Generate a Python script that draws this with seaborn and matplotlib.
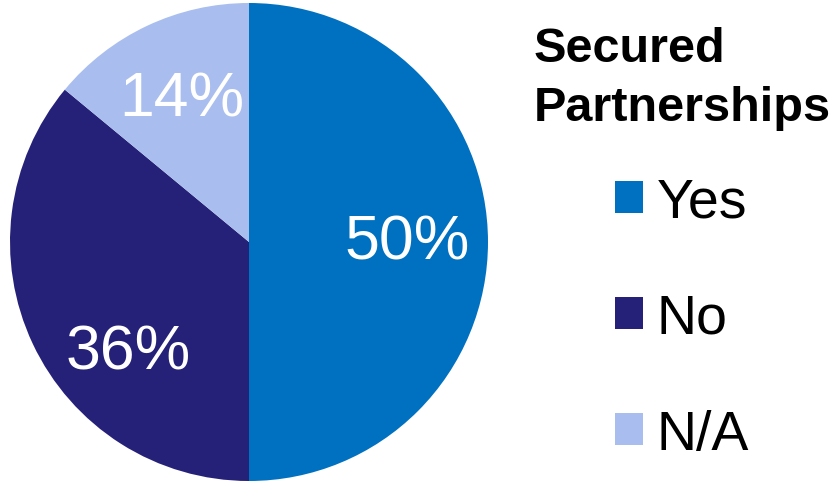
import matplotlib
matplotlib.use("Agg")
import matplotlib.pyplot as plt
import seaborn as sns

# data
categories = ["Yes", "No", "N/A"]
shares = [50, 36, 14]
colors = ["#0070C0", "#262178", "#A9BEEE"]
legend_title = "Secured\nPartnerships"

sns.set_style("white")
plt.rcParams["font.family"] = ["Liberation Sans", "DejaVu Sans"]
plt.rcParams["text.color"] = "black"

fig = plt.figure(figsize=(8.35, 4.85), dpi=100)
W, H = 835, 485
cx, cy, r = 249, 243, 239
ax = fig.add_axes([(cx - r) / W, (H - cy - r) / H, 2 * r / W, 2 * r / H])

wedges, texts, autotexts = ax.pie(
    shares, colors=colors, startangle=90, counterclock=False,
    autopct="%.0f%%", pctdistance=0.66, radius=1,
    wedgeprops=dict(linewidth=0),
    textprops=dict(color="white", fontsize=45),
)
# excel puts the "No" label a bit lower than the mid-angle
autotexts[1].set_position((-0.506, -0.46))
ax.set_xlim(-1, 1)
ax.set_ylim(-1, 1)
ax.set_aspect("equal")
ax.axis("off")

leg = fig.legend(
    wedges, categories, loc="upper center", bbox_to_anchor=(682 / W, 1.025),
    frameon=False, fontsize=40, handlelength=0.5, handleheight=0.5,
    handletextpad=0.25, labelspacing=1.15, title=legend_title, borderpad=0.2,
    title_fontproperties=dict(size=35, weight="bold"),
)
leg.get_title().set_linespacing(1.4)
leg.get_title().set_color("black")
for t in leg.get_texts():
    t.set_color("black")
leg._legend_box.sep = 34

fig.savefig("out.png", dpi=100)
